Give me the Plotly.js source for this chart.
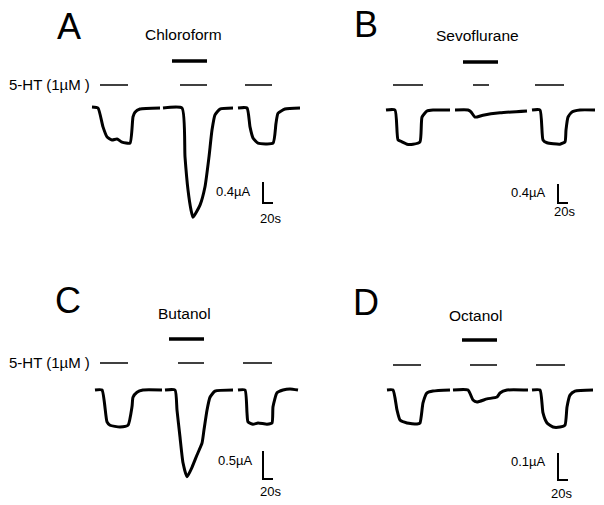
<!DOCTYPE html>
<html><head><meta charset="utf-8">
<script src="https://cdn.plot.ly/plotly-3.0.1.min.js"></script>
<style>html,body{margin:0;padding:0;background:#fff}</style></head>
<body><div id="chart" style="width:604px;height:505px"></div>
<script>
// ---------- DATA (time in s, current in µA; null separates recordings) ----------
const panelLetters = ['A', 'B', 'C', 'D'];
const drugNames = ['Chloroform', 'Sevoflurane', 'Butanol', 'Octanol'];
const agonistLabel = '5-HT (1\u00b5M )';

const timeA = [0,12,22,30,40,50,60,76,82,86,96,136, null,
               142,180,186,192,198,202,216,226,234,240,246,256,282, null,
               292,310,316,322,332,362,368,372,386,416];
const currentA = [0.02,0,-0.36,-0.55,-0.61,-0.59,-0.65,-0.67,-0.17,-0.08,-0.02,0, null,
                  0,0,-0.93,-1.56,-1.94,-2.08,-1.85,-1.50,-0.93,-0.42,-0.13,-0.02,0, null,
                  0,0,-0.36,-0.57,-0.67,-0.67,-0.29,-0.10,-0.02,0];

const timeB = [0,18,24,32,42,54,68,72,82,94,128, null,
               138,164,170,178,194,228,282, null,
               292,308,314,322,348,358,360,364,372,388,418];
const currentB = [0,0,-0.63,-0.67,-0.72,-0.72,-0.67,-0.15,-0.02,0,0, null,
                  0,0,-0.04,-0.15,-0.11,-0.06,-0.02, null,
                  0,0,-0.63,-0.69,-0.72,-0.67,-0.42,-0.15,-0.04,0,0];

const timeC = [0,14,24,30,50,66,74,76,84,96,134, null,
               140,160,164,170,176,184,194,204,214,218,224,230,240,276, null,
               286,300,304,306,316,326,344,354,356,364,376,390,406];
const currentC = [0,0,-0.57,-0.63,-0.66,-0.63,-0.30,-0.13,-0.04,0,0, null,
                  0,0,-0.36,-0.84,-1.30,-1.55,-1.38,-1.16,-0.95,-0.71,-0.36,-0.13,-0.02,0, null,
                  0,0,-0.41,-0.57,-0.61,-0.59,-0.61,-0.59,-0.30,-0.05,0,0.02,0];

const timeD = [0,12,20,26,40,60,66,72,80,92,126, null,
               132,162,172,180,200,220,226,240,282, null,
               290,306,312,320,332,346,356,360,366,376,412];
const currentD = [0,0,-0.074,-0.111,-0.122,-0.126,-0.122,-0.048,-0.011,-0.004,0, null,
                  0,0,-0.037,-0.044,-0.033,-0.026,-0.011,0,0, null,
                  0,0,-0.085,-0.122,-0.137,-0.137,-0.130,-0.063,-0.019,-0.004,0];

// 5-HT applications [start, end] (s) and anaesthetic application
const agonistA = [[16,72],[176,230],[306,360]];
const agonistB = [[14,74],[174,206],[298,356]];
const agonistC = [[10,66],[166,218],[296,354]];
const agonistD = [[12,68],[166,220],[298,356]];
const drugA = [160,230];
const drugB = [154,224];
const drugC = [148,218];
const drugD = [150,220];

const scaleCurrent = [0.4, 0.4, 0.5, 0.1]; // µA
const scaleTime = 20; // s

// ---------- LAYOUT GEOMETRY (pixels) ----------
const W = 604, H = 505;
const geo = [
  {box:[0,302,0,252],   ox:92,  oy:108, sy:52.5, htY:85,  drugY:61,  bar:[263,203], lblI:[253,191], lblT:[270,219], letter:[69,26],  name:[183,34]},
  {box:[302,604,0,252], ox:386, oy:110, sy:47.5, htY:85,  drugY:62,  bar:[558,203], lblI:[548,192], lblT:[564,212], letter:[366,24], name:[477,36]},
  {box:[0,302,252,505], ox:95,  oy:390, sy:56,   htY:363, drugY:339, bar:[263,479], lblI:[255,460], lblT:[270,491], letter:[68,300], name:[184,313]},
  {box:[302,604,252,505],ox:387,oy:390, sy:270,  htY:365, drugY:340, bar:[558,480], lblI:[548,461], lblT:[561,493], letter:[366,302], name:[475,315]}
];
const sx = 0.5; // px per second

const times = [timeA, timeB, timeC, timeD];
const currents = [currentA, currentB, currentC, currentD];
const agonists = [agonistA, agonistB, agonistC, agonistD];
const drugs = [drugA, drugB, drugC, drugD];

const px = x => x / W;
const py = y => 1 - y / H;

const FONT = 'Liberation Sans, Arial, sans-serif';
const data = [];
const shapes = [];
const annotations = [];
const layout = {
  width: W, height: H, margin: {l:0, r:0, t:0, b:0},
  paper_bgcolor: '#fff', plot_bgcolor: 'rgba(0,0,0,0)',
  showlegend: false, font: {family: FONT, color: '#000'}
};

geo.forEach((g, k) => {
  const n = k === 0 ? '' : String(k + 1);
  const xa = 'x' + n, ya = 'y' + n;
  const [x0, x1, y0, y1] = g.box;
  layout['xaxis' + n] = {
    domain: [px(x0), px(x1)], range: [(x0 - g.ox) / sx, (x1 - g.ox) / sx],
    visible: false, fixedrange: true, anchor: ya
  };
  layout['yaxis' + n] = {
    domain: [py(y1), py(y0)], range: [-(y1 - g.oy) / g.sy, (g.oy - y0) / g.sy],
    visible: false, fixedrange: true, anchor: xa
  };
  data.push({
    type: 'scatter', mode: 'lines', x: times[k], y: currents[k],
    xaxis: xa, yaxis: ya, connectgaps: false,
    line: {color: '#000', width: 3, shape: 'spline', smoothing: 0.5},
    hoverinfo: 'skip'
  });
  // 5-HT application bars
  agonists[k].forEach(a => shapes.push({
    type: 'line', xref: xa, yref: 'paper', x0: a[0], x1: a[1],
    y0: py(g.htY), y1: py(g.htY), line: {color: '#000', width: 1.5}
  }));
  // anaesthetic bar
  shapes.push({
    type: 'line', xref: xa, yref: 'paper', x0: drugs[k][0], x1: drugs[k][1],
    y0: py(g.drugY), y1: py(g.drugY), line: {color: '#000', width: 3.5}
  });
  // scale bar
  const bt = (g.bar[0] - g.ox) / sx;
  const bi = -(g.bar[1] - g.oy) / g.sy;
  shapes.push({
    type: 'path', xref: xa, yref: ya,
    path: `M ${bt} ${bi + scaleCurrent[k]} L ${bt} ${bi} L ${bt + scaleTime} ${bi}`,
    line: {color: '#000', width: 2}
  });
  annotations.push(
    {xref:'paper', yref:'paper', x: px(g.lblI[0]), y: py(g.lblI[1]), xanchor:'right', yanchor:'middle',
     text: scaleCurrent[k] + '\u00b5A', showarrow:false, font:{size:13, family:FONT}},
    {xref:'paper', yref:'paper', x: px(g.lblT[0]), y: py(g.lblT[1]), xanchor:'center', yanchor:'middle',
     text: scaleTime + 's', showarrow:false, font:{size:13, family:FONT}},
    {xref:'paper', yref:'paper', x: px(g.letter[0]), y: py(g.letter[1]), xanchor:'center', yanchor:'middle',
     text: panelLetters[k], showarrow:false, font:{size:36, family:FONT}},
    {xref:'paper', yref:'paper', x: px(g.name[0]), y: py(g.name[1]), xanchor:'center', yanchor:'middle',
     text: drugNames[k], showarrow:false, font:{size:15.5, family:FONT}}
  );
  if (k % 2 === 0) {
    annotations.push({xref:'paper', yref:'paper', x: px(7), y: py(g.htY - 1), xanchor:'left', yanchor:'middle',
      text: agonistLabel, showarrow:false, font:{size:15, family:FONT}});
  }
});
layout.shapes = shapes;
layout.annotations = annotations;

Plotly.newPlot('chart', data, layout, {displayModeBar: false, staticPlot: true});
</script></body></html>
